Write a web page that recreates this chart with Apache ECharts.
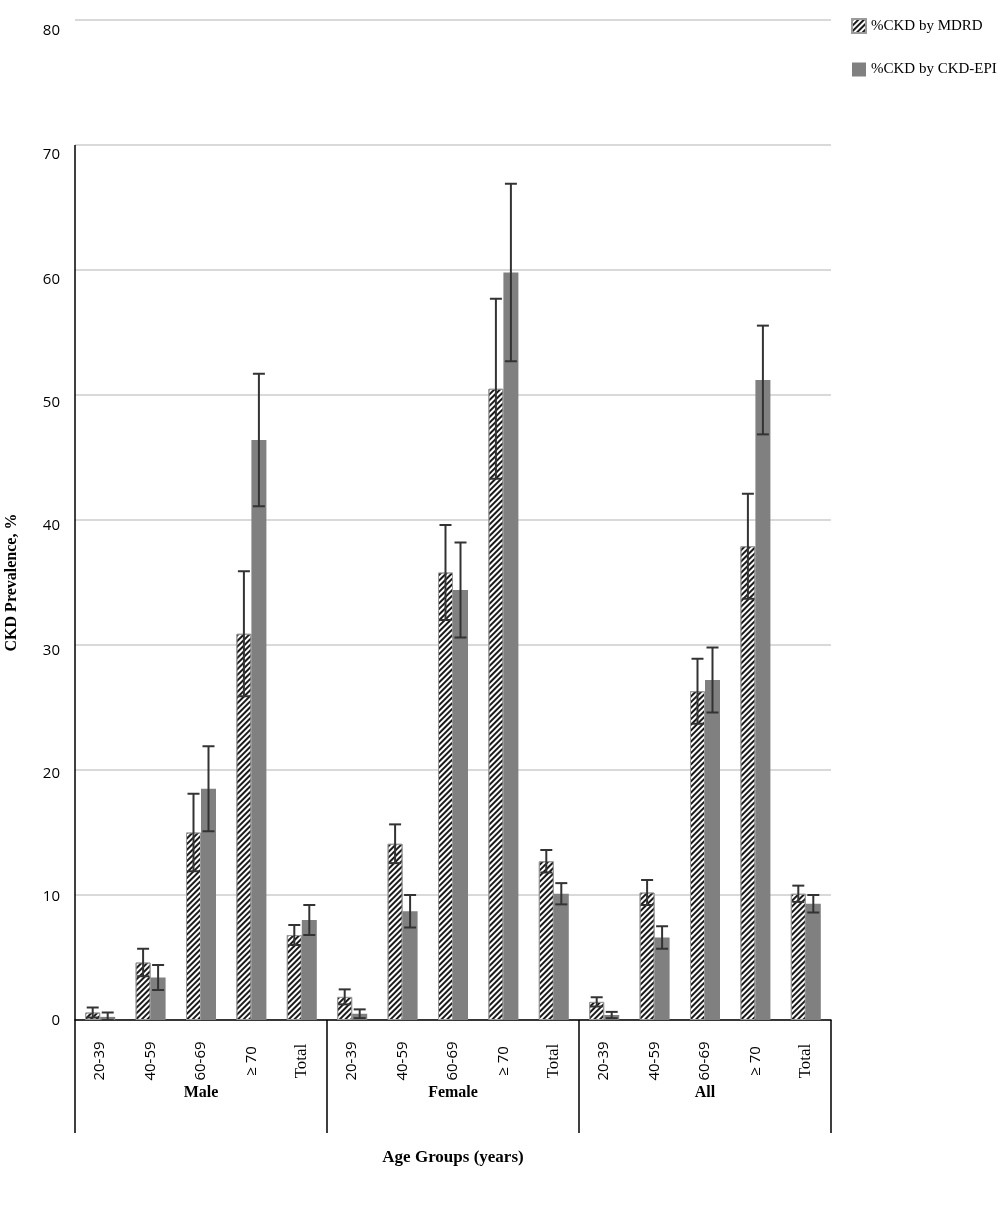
<!DOCTYPE html>
<html><head><meta charset="utf-8">
<script src="https://cdn.jsdelivr.net/npm/echarts@6/dist/echarts.min.js"></script>
<style>html,body{margin:0;padding:0;background:#fff}#c{width:1000px;height:1223px}</style>
</head><body><div id="c"></div>
<script>
const ageGroups = ['20-39','40-59','60-69','≥ 70','Total'];
const groups = ['Male','Female','All'];
const categories = groups.flatMap(() => ageGroups);
const mdrd    = [0.6, 4.6, 15.0, 30.9, 6.8,   1.85, 14.1, 35.8, 50.5, 12.7,   1.45, 10.2, 26.3, 37.9, 10.1];
const mdrdErr = [0.4, 1.1, 3.1,  5.0,  0.8,   0.6,  1.55, 3.8,  7.2,  0.9,    0.37, 1.0,  2.6,  4.2,  0.65];
const epi     = [0.25,3.4, 18.5, 46.4, 8.0,   0.5,  8.7,  34.4, 59.8, 10.1,   0.4,  6.6,  27.2, 51.2, 9.3];
const epiErr  = [0.35,1.0, 3.4,  5.3,  1.2,   0.35, 1.3,  3.8,  7.1,  0.85,   0.25, 0.9,  2.6,  4.35, 0.7];
const yTicks = {min: 0, max: 80, interval: 10};
const seriesNames = ['%CKD by MDRD', '%CKD by CKD-EPI'];

const BAR_W = 15;
const serif = 'Liberation Serif';
const sans = 'Open Sans';
// small downward shift of the y tick labels relative to their gridlines, as in the original
const yLabelShift = {0: 1, 10: 2, 20: 4, 30: 6, 40: 6, 50: 8, 60: 10, 70: 10, 80: 11};
const yRich = {};
Object.keys(yLabelShift).forEach(k => {
  yRich['v' + k] = {fontFamily: sans, fontSize: 15, color: '#000', padding: [yLabelShift[k] * 2, 0, 0, 0]};
});

function errRender(values, errs, offset) {
  return function (params, api) {
    const i = api.value(0);
    const v = values[i], e = errs[i];
    const top = api.coord([i, v + e]);
    const bot = api.coord([i, Math.max(0, v - e)]);
    const x = top[0] + offset;
    const cap = 6;
    const style = {stroke: '#333', lineWidth: 2};
    return {type: 'group', children: [
      {type: 'line', shape: {x1: x, y1: top[1], x2: x, y2: bot[1]}, style},
      {type: 'line', shape: {x1: x - cap, y1: top[1], x2: x + cap, y2: top[1]}, style},
      {type: 'line', shape: {x1: x - cap, y1: bot[1], x2: x + cap, y2: bot[1]}, style}
    ]};
  };
}

const chart = echarts.init(document.getElementById('c'), null, {renderer: 'canvas'});
const option = {
  animation: false,
  backgroundColor: '#fff',
  grid: {left: 75, right: 169, top: 20, bottom: 203, containLabel: false},
  legend: {
    orient: 'vertical', left: 846, top: 13, itemGap: 28,
    itemWidth: 14, itemHeight: 14, icon: 'rect',
    textStyle: {fontFamily: serif, fontSize: 15, color: '#000'},
    data: seriesNames
  },
  xAxis: [{
    type: 'category', data: categories, position: 'bottom',
    axisLine: {lineStyle: {color: '#000', width: 1.5}},
    axisTick: {show: false},
    axisLabel: {
      interval: 0, rotate: 90, margin: 41, align: 'center', verticalAlign: 'middle',
      fontFamily: sans, fontSize: 15, color: '#000',
      formatter: v => v === 'Total' ? '{s|Total}' : v,
      rich: {s: {fontFamily: serif, fontSize: 17, color: '#000'}}
    },
    name: 'Age Groups (years)', nameLocation: 'middle', nameGap: 129,
    nameTextStyle: {fontFamily: serif, fontSize: 17, fontWeight: 'bold', color: '#000'}
  }, {
    type: 'category', data: groups, position: 'bottom', boundaryGap: true,
    axisLine: {show: false},
    axisTick: {show: true, length: 113, interval: 0, lineStyle: {color: '#000', width: 1.5}},
    axisLabel: {interval: 0, margin: 65, fontFamily: serif, fontSize: 16, fontWeight: 'bold', color: '#000'}
  }],
  yAxis: {
    type: 'value', min: yTicks.min, max: yTicks.max, interval: yTicks.interval,
    axisLine: {show: false}, axisTick: {show: false},
    axisLabel: {margin: 15, formatter: v => '{v' + v + '|' + v + '}', rich: yRich},
    splitLine: {lineStyle: {color: '#d9d9d9', width: 2}}
  },
  series: [{
    name: seriesNames[0], type: 'bar', data: mdrd, barWidth: BAR_W, barGap: '0%',
    itemStyle: {
      color: '#fff', borderColor: '#9a9a9a', borderWidth: 1,
      decal: {symbol: 'rect', symbolSize: 1, dashArrayX: [1, 0], dashArrayY: [1.7, 1.7], rotation: -Math.PI / 4, color: '#1a1a1a'}
    }
  }, {
    name: seriesNames[1], type: 'bar', data: epi, barWidth: BAR_W, barGap: '0%',
    itemStyle: {color: '#808080'}
  }, {
    type: 'custom', name: 'errMDRD', data: mdrd.map((v, i) => [i, v]),
    renderItem: errRender(mdrd, mdrdErr, -BAR_W / 2), z: 5, silent: true
  }, {
    type: 'custom', name: 'errEPI', data: epi.map((v, i) => [i, v]),
    renderItem: errRender(epi, epiErr, BAR_W / 2), z: 5, silent: true
  }]
};
chart.setOption(option);

// left axis line only spans 0..70, plus rotated y-axis title centered on it
const y70 = chart.convertToPixel({yAxisIndex: 0}, 70);
const y0 = chart.convertToPixel({yAxisIndex: 0}, 0);
const xl = chart.convertToPixel({xAxisIndex: 1}, 'Male') - chart.getModel().getComponent('xAxis', 1).axis.getBandWidth() / 2;
chart.setOption({graphic: [
  {type: 'line', shape: {x1: xl, y1: y70, x2: xl, y2: y0}, style: {stroke: '#000', lineWidth: 1.5}, z: 10},
  {type: 'text', x: 12, y: (y70 + y0) / 2, rotation: Math.PI / 2,
   style: {text: 'CKD Prevalence, %', fontFamily: serif, fontSize: 16, fontWeight: 'bold', fill: '#000', align: 'center', verticalAlign: 'middle'}}
]});
</script></body></html>
